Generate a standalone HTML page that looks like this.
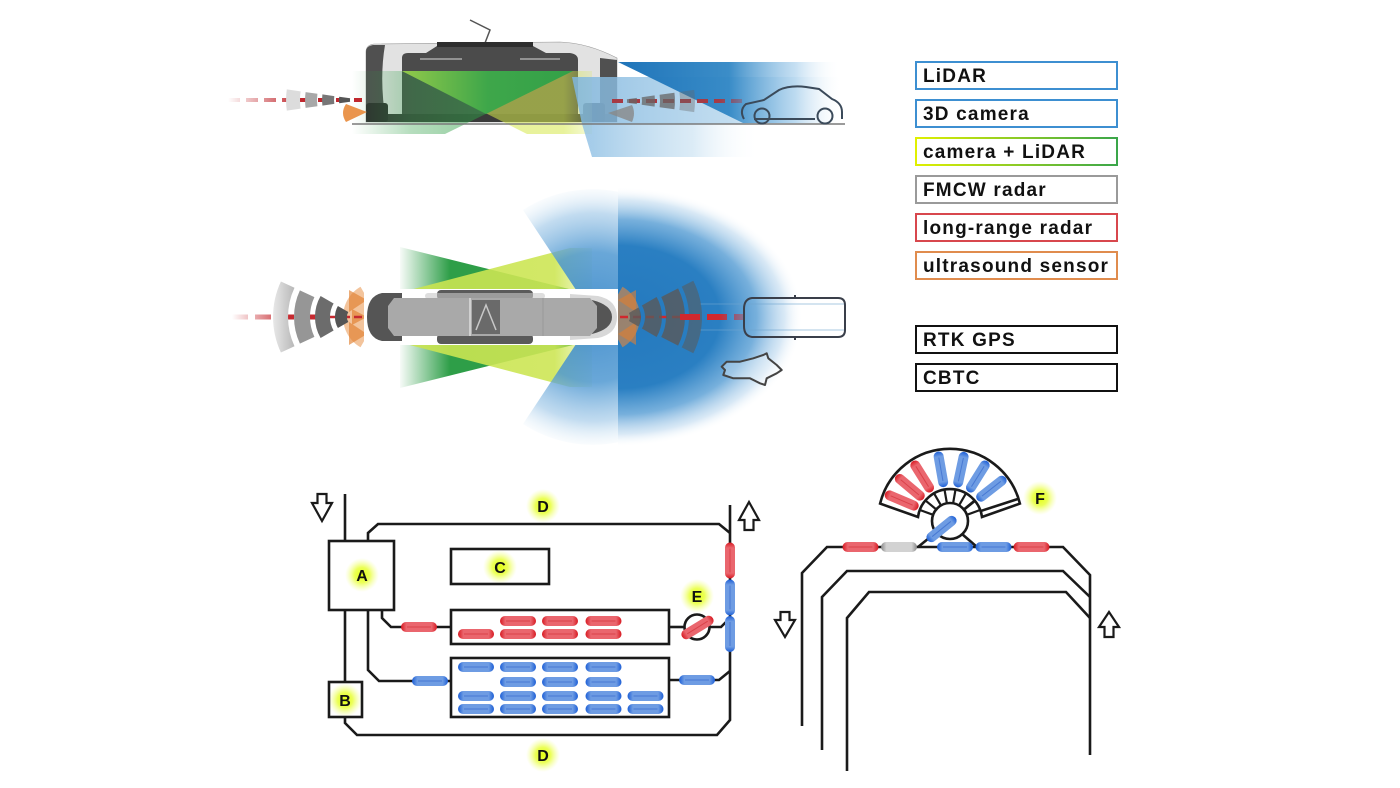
<!DOCTYPE html>
<html><head><meta charset="utf-8">
<style>
html,body{margin:0;padding:0;background:#fff;}
body{width:1400px;height:788px;overflow:hidden;}
svg{display:block;}
.lg{font-family:"Liberation Sans",Arial,sans-serif;font-weight:bold;font-size:19px;fill:#111;letter-spacing:1.2px;}
.lbl{font-family:"Liberation Sans",Arial,sans-serif;font-weight:bold;font-size:16px;fill:#111;text-anchor:middle;}
</style></head><body>
<svg width="1400" height="788" viewBox="0 0 1400 788" xmlns="http://www.w3.org/2000/svg">
<defs>
 <radialGradient id="glow"><stop offset="0" stop-color="#e2ff10" stop-opacity="1"/><stop offset=".45" stop-color="#e8ff3a" stop-opacity=".85"/><stop offset="1" stop-color="#f4ff90" stop-opacity="0"/></radialGradient>
 <linearGradient id="gR" x1="0" y1="0" x2="1" y2="0"><stop offset="0" stop-color="#d81a22"/><stop offset=".15" stop-color="#ea666e"/><stop offset=".85" stop-color="#ea666e"/><stop offset="1" stop-color="#d81a22"/></linearGradient>
 <linearGradient id="gB" x1="0" y1="0" x2="1" y2="0"><stop offset="0" stop-color="#1c5ed6"/><stop offset=".15" stop-color="#6e9ce3"/><stop offset=".85" stop-color="#6e9ce3"/><stop offset="1" stop-color="#1c5ed6"/></linearGradient>
 <linearGradient id="gG" x1="0" y1="0" x2="1" y2="0"><stop offset="0" stop-color="#8a8a8a"/><stop offset=".15" stop-color="#d2d2d2"/><stop offset=".85" stop-color="#d2d2d2"/><stop offset="1" stop-color="#8a8a8a"/></linearGradient>
 <g id="pR"><rect x="-18" y="-5" width="36" height="10" rx="5" fill="url(#gR)"/><line x1="-12" y1="0" x2="12" y2="0" stroke="#c81820" stroke-width="1" opacity=".45"/></g>
 <g id="pB"><rect x="-18" y="-5" width="36" height="10" rx="5" fill="url(#gB)"/><line x1="-12" y1="0" x2="12" y2="0" stroke="#1c50c0" stroke-width="1" opacity=".45"/></g>
 <g id="pG"><rect x="-18" y="-5" width="36" height="10" rx="5" fill="url(#gG)"/></g>
 <linearGradient id="gCam" x1="0" y1="0" x2="1" y2="0"><stop offset="0" stop-color="#e0f000"/><stop offset="1" stop-color="#3aa64a"/></linearGradient>

 <!-- side view -->
 <linearGradient id="sGreen" gradientUnits="userSpaceOnUse" x1="352" y1="0" x2="520" y2="0"><stop offset="0" stop-color="#2e9f45" stop-opacity="0"/><stop offset=".35" stop-color="#2e9f45" stop-opacity=".35"/><stop offset="1" stop-color="#2e9f45" stop-opacity=".6"/></linearGradient>
 <linearGradient id="sYel" gradientUnits="userSpaceOnUse" x1="402" y1="0" x2="592" y2="0"><stop offset="0" stop-color="#d5e84a" stop-opacity=".55"/><stop offset=".85" stop-color="#d5e84a" stop-opacity=".55"/><stop offset="1" stop-color="#d5e84a" stop-opacity=".2"/></linearGradient>
 <linearGradient id="sTri" gradientUnits="userSpaceOnUse" x1="402" y1="0" x2="573" y2="0"><stop offset="0" stop-color="#92ca4a"/><stop offset=".5" stop-color="#3aa64a"/><stop offset="1" stop-color="#2e9f48"/></linearGradient>
 <linearGradient id="sDB" gradientUnits="userSpaceOnUse" x1="618" y1="0" x2="840" y2="0"><stop offset="0" stop-color="#1f74b9"/><stop offset=".5" stop-color="#3187c5" stop-opacity=".95"/><stop offset=".8" stop-color="#8cc0e6" stop-opacity=".5"/><stop offset="1" stop-color="#fff" stop-opacity="0"/></linearGradient>
 <linearGradient id="sLB" gradientUnits="userSpaceOnUse" x1="572" y1="0" x2="840" y2="0"><stop offset="0" stop-color="#7fb6de" stop-opacity=".85"/><stop offset=".6" stop-color="#a9cfea" stop-opacity=".7"/><stop offset="1" stop-color="#d8eaf6" stop-opacity="0"/></linearGradient>
 <linearGradient id="sLB2" gradientUnits="userSpaceOnUse" x1="592" y1="0" x2="760" y2="0"><stop offset="0" stop-color="#8fc0e4" stop-opacity=".8"/><stop offset=".6" stop-color="#b8d8ee" stop-opacity=".5"/><stop offset="1" stop-color="#fff" stop-opacity="0"/></linearGradient>
 <linearGradient id="sRedL" gradientUnits="userSpaceOnUse" x1="228" y1="0" x2="300" y2="0"><stop offset="0" stop-color="#c0272d" stop-opacity="0"/><stop offset="1" stop-color="#c0272d" stop-opacity="1"/></linearGradient>
 <linearGradient id="sRedR" gradientUnits="userSpaceOnUse" x1="612" y1="0" x2="745" y2="0"><stop offset="0" stop-color="#a63a44"/><stop offset=".8" stop-color="#a63a44"/><stop offset="1" stop-color="#a63a44" stop-opacity=".3"/></linearGradient>

 <!-- top view -->
 <radialGradient id="tLB" gradientUnits="userSpaceOnUse" cx="594" cy="317" r="130"><stop offset="0" stop-color="#3585c8"/><stop offset=".5" stop-color="#4a95d0" stop-opacity=".92"/><stop offset=".8" stop-color="#8dbde3" stop-opacity=".6"/><stop offset="1" stop-color="#d5e8f5" stop-opacity=".1"/></radialGradient>
 <radialGradient id="tDB" cx=".5" cy=".5" r=".5"><stop offset="0" stop-color="#2479be"/><stop offset=".55" stop-color="#2a7fc2"/><stop offset=".75" stop-color="#5fa2d6" stop-opacity=".85"/><stop offset=".9" stop-color="#a9cdea" stop-opacity=".45"/><stop offset="1" stop-color="#fff" stop-opacity="0"/></radialGradient>
 <clipPath id="clipR"><rect x="618" y="170" width="300" height="300"/></clipPath>
 <linearGradient id="tGreen" gradientUnits="userSpaceOnUse" x1="398" y1="0" x2="450" y2="0"><stop offset="0" stop-color="#2e9e48" stop-opacity="0"/><stop offset="1" stop-color="#2e9e48" stop-opacity="1"/></linearGradient>
 <linearGradient id="tYel" gradientUnits="userSpaceOnUse" x1="406" y1="0" x2="592" y2="0"><stop offset="0" stop-color="#c8e450" stop-opacity=".9"/><stop offset=".8" stop-color="#cde655" stop-opacity=".9"/><stop offset="1" stop-color="#cde655" stop-opacity=".2"/></linearGradient>
 <linearGradient id="tRedL" gradientUnits="userSpaceOnUse" x1="232" y1="0" x2="290" y2="0"><stop offset="0" stop-color="#c62a30" stop-opacity="0"/><stop offset="1" stop-color="#c62a30" stop-opacity="1"/></linearGradient>
 <linearGradient id="tRedR" gradientUnits="userSpaceOnUse" x1="680" y1="0" x2="745" y2="0"><stop offset="0" stop-color="#d0282e"/><stop offset=".6" stop-color="#d0282e"/><stop offset="1" stop-color="#c0404a" stop-opacity=".4"/></linearGradient>
 <linearGradient id="rng1" x1="0" y1="0" x2="1" y2="0"><stop offset="0" stop-color="#e8e8e8"/><stop offset="1" stop-color="#b8b8b8"/></linearGradient>
</defs>

<rect x="0" y="0" width="1400" height="788" fill="#fff"/>

<!-- ================= SIDE VIEW ================= -->
<g>
 <polyline points="470,20 490,30 485,43" fill="none" stroke="#555" stroke-width="1.5"/>
 <path d="M366,122 L366,52 Q366,45 374,44 L560,42 Q588,43 617,58 L617,122 Z" fill="#e2e2e2" stroke="#999" stroke-width=".6"/>
 <path d="M366,122 L366,52 Q366,46 373,45 L385,45 Q379,80 386,122 Z" fill="#505050"/>
 <path d="M402,118 L402,58 Q402,53 408,53 L426,53 L437,46 L533,46 L546,53 L570,53 Q578,54 578,60 L578,118 Z" fill="#4b4b4b"/>
 <rect x="437" y="42" width="96" height="5" fill="#2e2e2e"/>
 <line x1="420" y1="59" x2="462" y2="59" stroke="#aaa" stroke-width="1.5"/>
 <line x1="520" y1="59" x2="560" y2="59" stroke="#aaa" stroke-width="1.5"/>
 <path d="M600,58 L617,60 L617,122 L600,122 Z" fill="#505050"/>
 <rect x="366" y="114" width="251" height="8" fill="#3a3a3a"/>
 <rect x="366" y="103" width="22" height="19" rx="3" fill="#2f2f2f"/>
 <rect x="583" y="103" width="22" height="19" rx="3" fill="#2f2f2f"/>

 <!-- beams -->
 <polygon points="573,71 352,71 352,134 445,134" fill="url(#sGreen)"/>
 <polygon points="402,71 592,71 592,134 527,134" fill="url(#sYel)"/>
 <polygon points="402,71 573,71 486,114" fill="url(#sTri)" opacity=".95"/>
 <polygon points="572,77 840,77 840,124 582,124" fill="url(#sLB)"/>
 <polygon points="582,124 760,124 760,157 592,157" fill="url(#sLB2)"/>
 <polygon points="618,62 840,62 840,123 743,123" fill="url(#sDB)"/>

 <line x1="352" y1="124" x2="845" y2="124" stroke="#7a7a7a" stroke-width="1.5"/>

 <!-- left radar -->
 <line x1="228" y1="100" x2="362" y2="100" stroke="url(#sRedL)" stroke-width="4" stroke-dasharray="12 6"/>
 <path d="M286.8,89.4 A76,76 0 0,0 286.8,110.6 L300.6,108.6 A62,62 0 0,1 300.6,91.4 Z" fill="#dcdcdc"/>
 <path d="M305.6,92.1 A57,57 0 0,0 305.6,107.9 L317.4,106.3 A45,45 0 0,1 317.4,93.7 Z" fill="#a8a8a8"/>
 <path d="M322.4,94.4 A40,40 0 0,0 322.4,105.6 L334.3,103.9 A28,28 0 0,1 334.3,96.1 Z" fill="#777"/>
 <path d="M339.2,96.8 A23,23 0 0,0 339.2,103.2 L350.1,101.7 A12,12 0 0,1 350.1,98.3 Z" fill="#555"/>
 <path d="M367,112 L346,104 Q340,113 346,122 Z" fill="#e8893a" opacity=".9"/>

 <!-- right radar -->
 <line x1="612" y1="101" x2="745" y2="101" stroke="url(#sRedR)" stroke-width="4" stroke-dasharray="11 6"/>
 <g fill="#666" opacity=".75">
 <path d="M636.8,97.9 A22,22 0 0,1 636.8,104.1 L626.9,102.7 A12,12 0 0,0 626.9,99.3 Z"/>
 <path d="M654.6,95.4 A40,40 0 0,1 654.6,106.6 L641.7,104.8 A27,27 0 0,0 641.7,97.2 Z"/>
 <path d="M674.4,92.7 A60,60 0 0,1 674.4,109.3 L659.6,107.3 A45,45 0 0,0 659.6,94.7 Z"/>
 <path d="M694.2,89.9 A80,80 0 0,1 694.2,112.1 L679.4,110 A65,65 0 0,0 679.4,92 Z" opacity=".5"/>
 </g>
 <path d="M608,113 L632,105 Q636,113 632,122 Z" fill="#888" opacity=".8"/>

 <!-- car side -->
 <g fill="none" stroke="#3b4a5a" stroke-width="2">
  <path d="M744,119 Q739,110 746,104 L764,100 L779,90 Q790,85 806,87 L819,89 L832,99 Q842,103 842,112 L842,119"/>
  <line x1="754" y1="119" x2="815" y2="119"/>
  <circle cx="762" cy="116" r="7.5"/>
  <circle cx="825" cy="116" r="7.5"/>
 </g>
</g>

<!-- ================= TOP VIEW ================= -->
<g>
 <!-- green / yellow wedges -->
 <polygon points="577,291 400,247 400,291" fill="url(#tGreen)"/>
 <polygon points="406,291 570,248 592,248 592,291" fill="url(#tYel)"/>
 <polygon points="577,344 400,388 400,344" fill="url(#tGreen)"/>
 <polygon points="406,344 570,387 592,387 592,344" fill="url(#tYel)"/>

 <!-- light blue sector -->
 <path d="M594,317 L523,210 A128,128 0 0,1 618,191.7 L618,442.3 A128,128 0 0,1 523,424 Z" fill="url(#tLB)" opacity=".9"/>
 <!-- dark blue -->
 <ellipse cx="618" cy="317" rx="185" ry="130" fill="url(#tDB)" clip-path="url(#clipR)"/>

 <!-- lane lines -->
 <line x1="700" y1="304" x2="845" y2="304" stroke="#6fa5d0" stroke-width="1" opacity=".6"/>
 <line x1="700" y1="330" x2="845" y2="330" stroke="#6fa5d0" stroke-width="1" opacity=".6"/>

 <!-- left ultrasound -->
 <path d="M378,317 L360.5,286.7 A35,35 0 0,0 360.5,347.3 Z" fill="#e8893a" opacity=".5"/>
 <path d="M367,300 L349,290 L349,312 Z M367,334 L349,322 L349,345 Z M367,317 L352,309 L352,325 Z" fill="#e07f30" opacity=".65"/>
 <!-- right ultrasound -->
 <path d="M605,317 L622.5,286.7 A35,35 0 0,1 622.5,347.3 Z" fill="#e8893a" opacity=".6"/>
 <path d="M618,300 L636,290 L636,312 Z M618,334 L636,322 L636,345 Z" fill="#e07f30" opacity=".6"/>

 <!-- tram top -->
 <rect x="364" y="289" width="254" height="56" fill="#fff"/>
 <rect x="437" y="290" width="96" height="10" rx="4" fill="#5a5a5a"/>
 <rect x="437" y="334" width="96" height="10" rx="4" fill="#5a5a5a"/>
 <rect x="425" y="293" width="120" height="6" rx="3" fill="#c8c8c8" opacity=".6"/>
 <path d="M402,293 L382,293 Q367,296 367,317 Q367,338 382,341 L402,341 Z" fill="#555"/>
 <path d="M570,294 L598,296 Q617,300 617,317 Q617,334 598,338 L570,340 Z" fill="#d8d8d8"/>
 <path d="M592,300 Q612,305 612,317 Q612,329 592,334 Z" fill="#555"/>
 <path d="M394,298 L590,298 L597,306 L597,328 L590,336 L394,336 L388,328 L388,306 Z" fill="#a9a9a9"/>
 <rect x="472" y="300" width="28" height="34" fill="#6a6a6a"/>
 <polyline points="476,330 486,305 496,330" fill="none" stroke="#c8c8c8" stroke-width="1.5"/>
 <line x1="470" y1="298" x2="470" y2="336" stroke="#ddd" stroke-width="1.5"/>
 <line x1="543" y1="298" x2="543" y2="336" stroke="#999" stroke-width="1"/>

 <!-- left radar -->
 <line x1="232" y1="317" x2="318" y2="317" stroke="url(#tRedL)" stroke-width="5" stroke-dasharray="16 7"/>
 <line x1="318" y1="317" x2="366" y2="317" stroke="#c62a30" stroke-width="2.5" stroke-dasharray="8 4"/>
 <path d="M280.9,281.5 A84,84 0 0,0 280.9,352.5 L294.5,346.2 A69,69 0 0,1 294.5,287.8 Z" fill="url(#rng1)"/>
 <path d="M299.9,290.4 A63,63 0 0,0 299.9,343.6 L314.4,336.9 A47,47 0 0,1 314.4,297.1 Z" fill="#969696"/>
 <path d="M320.6,296 A42,42 0 0,0 320.6,338 L333.6,330.5 A27,27 0 0,1 333.6,303.5 Z" fill="#6c6c6c"/>
 <path d="M337.9,306 A22,22 0 0,0 337.9,328 L348.3,322 A10,10 0 0,1 348.3,312 Z" fill="#555"/>

 <!-- right radar -->
 <line x1="620" y1="317" x2="680" y2="317" stroke="#d0282e" stroke-width="2.5" stroke-dasharray="8 5"/>
 <g fill="#5a5a5a" opacity=".8">
 <path d="M638.5,307.5 A19,19 0 0,1 638.5,326.5 L628.9,321 A8,8 0 0,0 628.9,313 Z"/>
 <path d="M656.6,297 A40,40 0 0,1 656.6,337 L641.9,328.5 A23,23 0 0,0 641.9,305.5 Z"/>
 <path d="M678.1,288.4 A63,63 0 0,1 678.1,345.6 L661.2,337 A44,44 0 0,0 661.2,297 Z"/>
 <path d="M693.3,280.7 A80,80 0 0,1 693.3,353.3 L681.7,347.4 A67,67 0 0,0 681.7,286.6 Z" opacity=".7"/>
 </g>
 <line x1="680" y1="317" x2="745" y2="317" stroke="url(#tRedR)" stroke-width="6" stroke-dasharray="20 7"/>

 <!-- car top -->
 <g fill="none" stroke="#3a3f4a" stroke-width="2">
  <path d="M752,298 L838,298 Q845,298 845,305 L845,330 Q845,337 838,337 L752,337 Q744,336 744,326 L744,309 Q744,299 752,298 Z"/>
  <line x1="795" y1="295" x2="795" y2="299"/>
  <line x1="795" y1="336" x2="795" y2="340"/>
 </g>
 <!-- animal -->
 <path d="M721.7,366.7 L726.7,361.7 L740,361.7 L753.3,358.3 L763.3,355 L766.7,353.3 L768.3,358.3 L776.7,365 L781.7,370 L776.7,373.3 L766.7,378.3 L765,385 L760,383.3 L750,378.3 L733.3,378.3 L723.3,375 L725,370 Z" fill="#fff" fill-opacity=".3" stroke="#444" stroke-width="2" stroke-linejoin="round"/>
</g>

<!-- ================= LEGEND ================= -->
<g stroke-width="2" fill="#fff">
 <rect x="916" y="62" width="201" height="27" stroke="#3d8fd1"/>
 <rect x="916" y="100" width="201" height="27" stroke="#3d8fd1"/>
 <rect x="916" y="138" width="201" height="27" stroke="url(#gCam)"/>
 <rect x="916" y="176" width="201" height="27" stroke="#9a9a9a"/>
 <rect x="916" y="214" width="201" height="27" stroke="#d8474d"/>
 <rect x="916" y="252" width="201" height="27" stroke="#e08c4e"/>
 <rect x="916" y="326" width="201" height="27" stroke="#111"/>
 <rect x="916" y="364" width="201" height="27" stroke="#111"/>
</g>
<text class="lg" x="923" y="82">LiDAR</text>
<text class="lg" x="923" y="120">3D camera</text>
<text class="lg" x="923" y="158">camera + LiDAR</text>
<text class="lg" x="923" y="196">FMCW radar</text>
<text class="lg" x="923" y="234">long-range radar</text>
<text class="lg" x="923" y="272">ultrasound sensor</text>
<text class="lg" x="923" y="346">RTK GPS</text>
<text class="lg" x="923" y="384">CBTC</text>

<!-- ================= BOTTOM LEFT DIAGRAM ================= -->
<g>
 <circle cx="362" cy="575" r="17" fill="url(#glow)"/>
 <circle cx="345" cy="700" r="17" fill="url(#glow)"/>
 <circle cx="500" cy="567" r="17" fill="url(#glow)"/>
 <circle cx="543" cy="506" r="17" fill="url(#glow)"/>
 <circle cx="543" cy="755" r="17" fill="url(#glow)"/>
 <circle cx="697" cy="596" r="17" fill="url(#glow)"/>
</g>
<g fill="none" stroke="#1a1a1a" stroke-width="2.6">
 <path d="M345,494 L345,541"/>
 <rect x="329" y="541" width="65" height="69"/>
 <path d="M368,541 L368,533 L378,524 L719,524 L730,533"/>
 <path d="M730,505 L730,720 L717,735 L357,735 L345,723 L345,717"/>
 <rect x="329" y="682" width="33" height="35"/>
 <path d="M345,610 L345,682"/>
 <path d="M368,610 L368,670 L379,681 L451,681"/>
 <path d="M382,610 L382,618 L391,627 L451,627"/>
 <rect x="451" y="549" width="98" height="35"/>
 <rect x="451" y="610" width="218" height="34"/>
 <rect x="451" y="658" width="218" height="59"/>
 <path d="M669,627 L685,627"/>
 <circle cx="697" cy="627" r="12.5"/>
 <path d="M709.5,627 L721,627 L730,618"/>
 <path d="M669,680 L719,680 L730,671"/>
</g>
<g fill="#fff" stroke="#1a1a1a" stroke-width="2.2" stroke-linejoin="miter">
 <path d="M317.5,494 L326.5,494 L326.5,503 L332,503 L322,521 L312,503 L317.5,503 Z"/>
 <path d="M749,502 L759,520 L753.5,520 L753.5,530 L744.5,530 L744.5,520 L739,520 Z"/>
 <path d="M780.5,612 L789.5,612 L789.5,620 L795,620 L785,637 L775,620 L780.5,620 Z"/>
 <path d="M1109,612 L1119,627 L1113.5,627 L1113.5,637 L1104.5,637 L1104.5,627 L1099,627 Z"/>
</g>
<!-- pills left diagram -->
<use href="#pR" transform="translate(419,627)"/>
<use href="#pB" transform="translate(430,681)"/>
<use href="#pR" transform="translate(518,621)"/>
<use href="#pR" transform="translate(560,621)"/>
<use href="#pR" transform="translate(603.5,621)"/>
<use href="#pR" transform="translate(476,634)"/>
<use href="#pR" transform="translate(518,634)"/>
<use href="#pR" transform="translate(560,634)"/>
<use href="#pR" transform="translate(603.5,634)"/>

<use href="#pB" transform="translate(476,667)"/>
<use href="#pB" transform="translate(518,667)"/>
<use href="#pB" transform="translate(560,667)"/>
<use href="#pB" transform="translate(603.5,667)"/>
<use href="#pB" transform="translate(518,682)"/>
<use href="#pB" transform="translate(560,682)"/>
<use href="#pB" transform="translate(603.5,682)"/>
<use href="#pB" transform="translate(476,696)"/>
<use href="#pB" transform="translate(518,696)"/>
<use href="#pB" transform="translate(560,696)"/>
<use href="#pB" transform="translate(603.5,696)"/>
<use href="#pB" transform="translate(645.5,696)"/>
<use href="#pB" transform="translate(476,709)"/>
<use href="#pB" transform="translate(518,709)"/>
<use href="#pB" transform="translate(560,709)"/>
<use href="#pB" transform="translate(603.5,709)"/>
<use href="#pB" transform="translate(645.5,709)"/>

<use href="#pB" transform="translate(697,680)"/>
<use href="#pR" transform="translate(730,560.5) rotate(90)"/>
<use href="#pB" transform="translate(730,597.5) rotate(90)"/>
<use href="#pB" transform="translate(730,634) rotate(90)"/>
<use href="#pR" transform="translate(697.5,627.5) rotate(-31.5)"/>

<text class="lbl" x="362" y="581">A</text>
<text class="lbl" x="345" y="706">B</text>
<text class="lbl" x="500" y="573">C</text>
<text class="lbl" x="543" y="512">D</text>
<text class="lbl" x="543" y="761">D</text>
<text class="lbl" x="697" y="602">E</text>

<!-- ================= BOTTOM RIGHT DIAGRAM ================= -->
<circle cx="1040" cy="498" r="17" fill="url(#glow)"/>
<g fill="none" stroke="#1a1a1a" stroke-width="2.6">
 <path d="M802,726 L802,573 L827,547 L1063,547 L1090,575 L1090,755"/>
 <path d="M822,750 L822,597 L847,571 L1063,571 L1090,597"/>
 <path d="M847,771 L847,618 L869,592 L1066,592 L1090,618"/>
 <path d="M880.1,503.6 A72,72 0 0,1 1019.9,503.6 L982,517 A32.3,32.3 0 0,0 918,517 Z" fill="#fff"/>
 <path d="M981.4,510.8 L1018.5,498.8"/>
 <g stroke-width="2.2">
  <path d="M933.1,514.8 L919.6,509.9"/>
  <path d="M936.2,509.4 L925.1,500.2"/>
  <path d="M941,505.4 L933.8,492.9"/>
  <path d="M946.9,503.3 L944.4,489.1"/>
  <path d="M953.1,503.3 L955.6,489.1"/>
  <path d="M959,505.4 L966.2,492.9"/>
  <path d="M963.8,509.4 L974.9,500.2"/>
  <path d="M966.9,514.8 L980.4,509.9"/>
 </g>
 <path d="M918,547 L975.6,500.2"/>
 <circle cx="950" cy="521" r="18" fill="#fff"/>
 <path d="M962,534 L977,547"/>
</g>
<use href="#pB" transform="translate(941.5,529) rotate(-39)"/>
<use href="#pR" transform="translate(860.5,547)"/>
<use href="#pG" transform="translate(899,547)"/>
<use href="#pB" transform="translate(955,547)"/>
<use href="#pB" transform="translate(993.5,547)"/>
<use href="#pR" transform="translate(1031.5,547)"/>
<use href="#pR" transform="translate(901.7,500.5) rotate(23)"/>
<use href="#pR" transform="translate(909.8,487.3) rotate(40)"/>
<use href="#pR" transform="translate(922.2,476.5) rotate(58)"/>
<use href="#pB" transform="translate(940.9,469.3) rotate(80)"/>
<use href="#pB" transform="translate(960.9,469.6) rotate(102)"/>
<use href="#pB" transform="translate(977.8,476.5) rotate(-58)"/>
<use href="#pB" transform="translate(991.4,488.7) rotate(-38)"/>
<text class="lbl" x="1040" y="504">F</text>
</svg>
</body></html>
